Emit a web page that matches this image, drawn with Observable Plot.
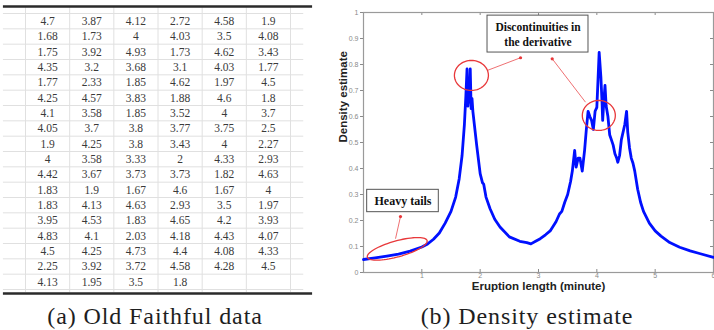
<!DOCTYPE html>
<html><head><meta charset="utf-8">
<script src="https://cdn.jsdelivr.net/npm/d3@7"></script>
<script src="https://cdn.jsdelivr.net/npm/@observablehq/plot@0.6"></script>
<style>
body{margin:0;background:#fff;}
#wrap{position:relative;width:714px;height:330px;overflow:hidden;background:#fff;}
#table{position:absolute;left:0;top:0;}
#dens{position:absolute;left:320px;top:0;}
#dens svg{overflow:visible;}
.cap{position:absolute;top:303px;font-family:"Liberation Serif",serif;font-size:24px;color:#1e1e1e;white-space:nowrap;transform:translateX(-50%);letter-spacing:0.9px;line-height:26px;}
</style></head>
<body><div id="wrap"><div id="table"></div><div id="dens"></div>
<div class="cap" style="left:155px">(a) Old Faithful data</div>
<div class="cap" style="left:527px">(b) Density estimate</div>
</div>
<script>
// ---- Table data (Old Faithful eruption lengths) ----
const tableRows = [
 ["4.7","3.87","4.12","2.72","4.58","1.9"],
 ["1.68","1.73","4","4.03","3.5","4.08"],
 ["1.75","3.92","4.93","1.73","4.62","3.43"],
 ["4.35","3.2","3.68","3.1","4.03","1.77"],
 ["1.77","2.33","1.85","4.62","1.97","4.5"],
 ["4.25","4.57","3.83","1.88","4.6","1.8"],
 ["4.1","3.58","1.85","3.52","4","3.7"],
 ["4.05","3.7","3.8","3.77","3.75","2.5"],
 ["1.9","4.25","3.8","3.43","4","2.27"],
 ["4","3.58","3.33","2","4.33","2.93"],
 ["4.42","3.67","3.73","3.73","1.82","4.63"],
 ["1.83","1.9","1.67","4.6","1.67","4"],
 ["1.83","4.13","4.63","2.93","3.5","1.97"],
 ["3.95","4.53","1.83","4.65","4.2","3.93"],
 ["4.83","4.1","2.03","4.18","4.43","4.07"],
 ["4.5","4.25","4.73","4.4","4.08","4.33"],
 ["2.25","3.92","3.72","4.58","4.28","4.5"],
 ["4.13","1.95","3.5","1.8"]
];

// ---- Density estimate curve ----
const densX = [0.0,0.2,0.4,0.6,0.8,1.0,1.1,1.2,1.3,1.4,1.5,1.58,1.64,1.69,1.73,1.755,1.775,1.79,1.805,1.815,1.83,1.845,1.86,1.875,1.9,1.94,2.0,2.04,2.06,2.1,2.17,2.25,2.34,2.5,2.68,2.8,2.87,2.95,3.03,3.12,3.2,3.3,3.36,3.4,3.45,3.5,3.55,3.58,3.6,3.62,3.645,3.68,3.71,3.75,3.79,3.82,3.85,3.88,3.91,3.94,3.97,4.0,4.02,4.04,4.07,4.09,4.1,4.12,4.14,4.16,4.19,4.22,4.25,4.28,4.31,4.34,4.36,4.39,4.42,4.46,4.48,4.51,4.53,4.56,4.59,4.62,4.65,4.7,4.75,4.8,4.9,5.0,5.1,5.25,5.42,5.6,5.76,6.0];
const densY = [0.050,0.056,0.063,0.071,0.082,0.098,0.11,0.128,0.152,0.19,0.235,0.29,0.36,0.45,0.57,0.68,0.783,0.64,0.70,0.655,0.783,0.63,0.67,0.62,0.57,0.49,0.38,0.345,0.34,0.29,0.245,0.205,0.175,0.137,0.12,0.115,0.11,0.12,0.13,0.145,0.16,0.195,0.225,0.235,0.27,0.30,0.35,0.39,0.43,0.47,0.405,0.44,0.44,0.39,0.47,0.55,0.62,0.60,0.585,0.55,0.62,0.635,0.74,0.847,0.75,0.65,0.585,0.66,0.72,0.64,0.60,0.53,0.51,0.49,0.457,0.44,0.424,0.45,0.51,0.55,0.57,0.62,0.54,0.48,0.44,0.42,0.39,0.32,0.27,0.235,0.19,0.16,0.14,0.115,0.097,0.083,0.073,0.058];

const xTicks = [0,1,2,3,4,5,6];
const yTicks = [0,0.1,0.2,0.3,0.4,0.5,0.6,0.7,0.8,0.9,1];

// ---- Table chart ----
const cells = tableRows.flatMap((r, i) => r.map((v, j) => ({row: i, col: j, v})));
const nRows = tableRows.length, nCols = 6;
const tableChart = Plot.plot({
  width: 320, height: 300,
  marginLeft: 25, marginRight: 30, marginTop: 13, marginBottom: 11,
  x: {domain: [0, nCols], axis: null},
  y: {domain: [nRows, 0], axis: null},
  style: {background: "white"},
  marks: [
    Plot.ruleY(d3.range(0, nRows + 1), {x1: -0.5, x2: nCols + 0.3, stroke: "#e0e0e0", strokeWidth: 1}),
    Plot.ruleX(d3.range(0, nCols + 1), {y1: -0.45, y2: nRows + 0.2, stroke: "#e0e0e0", strokeWidth: 1}),
    Plot.text(cells, {x: d => d.col + 0.5, y: d => d.row + 0.5, text: "v",
      fontSize: 11.5, fill: "#3a3a3a", fontFamily: "Liberation Serif, serif"}),
    Plot.ruleY([-0.46], {x1: -0.5, x2: 6.5, stroke: "#2a2a2a", strokeWidth: 2.5}),
    Plot.ruleY([nRows + 0.26], {x1: -0.5, x2: 6.5, stroke: "#2a2a2a", strokeWidth: 2.5})
  ]
});
document.getElementById("table").append(tableChart);

// ---- Density chart ----
const W = 394, H = 300, mL = 43, mR = 1, mT = 12, mB = 28;
const pxX = (W - mL - mR) / 6, pxY = (H - mT - mB) / 1;
const curve = densX.map((x, i) => ({x, y: densY[i]}));
function ellipse(cx, cy, rx, ry, angDeg) {
  const a = angDeg * Math.PI / 180;
  return d3.range(0, 73).map(i => {
    const t = i / 72 * 2 * Math.PI;
    const px = rx * Math.cos(t), py = ry * Math.sin(t);
    const X = px * Math.cos(a) - py * Math.sin(a);
    const Y = px * Math.sin(a) + py * Math.cos(a);
    return {x: cx + X / pxX, y: cy - Y / pxY};
  });
}
const red = "#e8383a";
const arrows = [
  {x1: 2.121, y1: 0.777, x2: 2.692, y2: 0.826},
  {x1: 3.806, y1: 0.655, x2: 3.235, y2: 0.822},
  {x1: 0.549, y1: 0.130, x2: 0.634, y2: 0.215}
];
const boxFont = "Liberation Serif, serif";
const densChart = Plot.plot({
  width: W, height: H,
  marginLeft: mL, marginRight: mR, marginTop: mT, marginBottom: mB,
  x: {domain: [0, 6]},
  y: {domain: [0, 1]},
  style: {background: "transparent", fontFamily: "Liberation Sans, Arial, sans-serif", overflow: "visible"},
  marks: [
    Plot.axisY({ticks: yTicks, tickSize: 3, tickPadding: 2, fontSize: 7, color: "#8a8a8a", label: null, tickFormat: d => String(d)}),
    Plot.axisX({ticks: xTicks.filter(d => d > 0), tickSize: 0, tickPadding: 1, fontSize: 7, color: "#8a8a8a", label: null, tickFormat: d => String(d)}),
    Plot.ruleX(xTicks, {y1: 0, y2: 3 / pxY, stroke: "#8a8a8a"}),
    Plot.ruleX(xTicks, {y1: 1 - 3 / pxY, y2: 1, stroke: "#8a8a8a"}),
    Plot.ruleY(yTicks, {x1: 6 - 3 / pxX, x2: 6, stroke: "#8a8a8a"}),
    Plot.frame({stroke: "#9a9a9a", strokeWidth: 1.2}),
    Plot.line(curve, {x: "x", y: "y", stroke: "#0010ff", strokeWidth: 2.8, curve: "linear"}),
    Plot.line(ellipse(1.85, 0.758, 17, 15, 0), {x: "x", y: "y", stroke: red, strokeWidth: 1.3}),
    Plot.line(ellipse(4.034, 0.604, 16.5, 15, 0), {x: "x", y: "y", stroke: red, strokeWidth: 1.3}),
    Plot.line(ellipse(0.578, 0.091, 31, 8, -15.5), {x: "x", y: "y", stroke: red, strokeWidth: 1.3}),
    Plot.link(arrows, {x1: "x1", y1: "y1", x2: "x2", y2: "y2", stroke: red, strokeWidth: 0.9, strokeOpacity: 0.8}),
    Plot.dot(arrows, {x: "x2", y: "y2", r: 1.6, fill: red, stroke: null}),
    Plot.rect([0], {x1: 2.126, x2: 3.857, y1: 0.846, y2: 0.988, fill: "white", stroke: "#555", strokeWidth: 1}),
    Plot.text(["Discontinuities in", "the derivative"], {x: 2.992, y: (d, i) => i === 0 ? 0.942 : 0.885, text: d => d,
      fontSize: 11.5, fontWeight: "bold", fontFamily: boxFont, fill: "#111"}),
    Plot.rect([0], {x1: 0.063, x2: 1.291, y1: 0.232, y2: 0.318, fill: "white", stroke: "#555", strokeWidth: 1}),
    Plot.text(["Heavy tails"], {x: 0.677, y: 0.275, text: d => d,
      fontSize: 12, fontWeight: "bold", fontFamily: boxFont, fill: "#111"}),
    Plot.text(["Eruption length (minute)"], {x: 3, frameAnchor: "bottom", dy: 17, text: d => d,
      fontSize: 11.5, fontWeight: "bold", fill: "#222"}),
    Plot.text(["Density estimate"], {y: 0.5, frameAnchor: "left", dx: -20, rotate: -90, text: d => d,
      fontSize: 11.5, fontWeight: "bold", fill: "#222"})
  ]
});
document.getElementById("dens").append(densChart);
</script>
</body></html>
